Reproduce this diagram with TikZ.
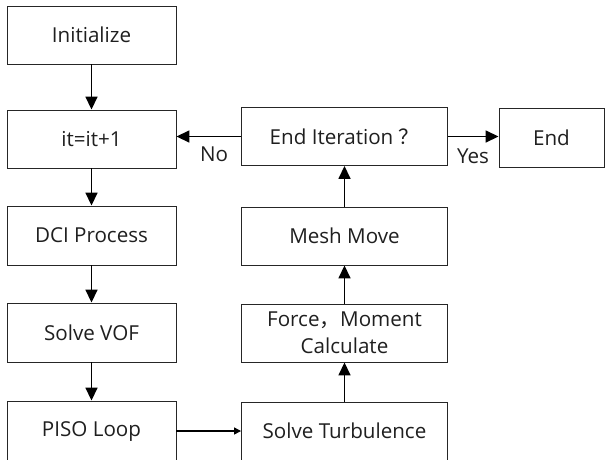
\documentclass[tikz,border=0pt]{standalone}
\usepackage{fontspec}
\setmainfont{Open Sans}
\newfontfamily\cjkfont{Noto Sans CJK SC}
\usetikzlibrary{arrows.meta}
\tikzset{
  stepbox/.style={draw=black!85, line width=0.9pt, fill=white, inner sep=0pt,
    align=center, font=\fontsize{20.6}{27}\selectfont, text=black!88},
  flow/.style={line width=1.6pt, -{Triangle[length=13pt,width=12pt]}},
  thinflow/.style={line width=1.3pt, -{Triangle[length=7pt,width=7pt]}},
  lbl/.style={font=\fontsize{20.6}{27}\selectfont, text=black!88, inner sep=0pt}
}
\begin{document}
\begin{tikzpicture}[x=1pt,y=-1pt]
\useasboundingbox (0,0) rectangle (606,459);
% left column
\node[stepbox, minimum width=169pt, minimum height=58pt] (init) at (91.5,35) {Initialize};
\node[stepbox, minimum width=169pt, minimum height=58pt] (it) at (91.5,139) {it=it+1};
\node[stepbox, minimum width=169pt, minimum height=59pt] (dci) at (91.5,235.5) {DCI Process};
\node[stepbox, minimum width=169pt, minimum height=59pt] (vof) at (91.5,332.5) {Solve VOF};
\node[stepbox, minimum width=169pt, minimum height=60pt] (piso) at (91.5,431) {PISO Loop};
% right column
\node[stepbox, minimum width=206pt, minimum height=58pt] (turb) at (344.5,431) {Solve Turbulence};
\node[stepbox, minimum width=206pt, minimum height=58pt] (force) at (344.5,333) {Force{\cjkfont ，}Moment\\Calculate};
\node[stepbox, minimum width=206pt, minimum height=58pt] (mesh) at (344.5,236) {Mesh Move};
\node[stepbox, minimum width=206pt, minimum height=58pt] (endit) at (344.5,136.5) {End Iteration {\cjkfont ？}};
\node[stepbox, minimum width=105pt, minimum height=59pt] (fin) at (551.5,137.5) {End};
% connectors
\draw[flow] (init) -- (it);
\draw[flow] (it) -- (dci);
\draw[flow] (dci) -- (vof);
\draw[flow] (vof) -- (piso);
\draw[thinflow] (piso) -- (turb);
\draw[flow] (turb) -- (force);
\draw[flow] (force) -- (mesh);
\draw[flow] (mesh) -- (endit);
\draw[flow] (endit.west) -- (it.east |- endit.west);
\draw[flow] (endit.east) -- (fin.west |- endit.east);
\node[lbl] (no) at (214,154) {No};
\node[lbl] (yes) at (473,156) {Yes};
\end{tikzpicture}
\end{document}
